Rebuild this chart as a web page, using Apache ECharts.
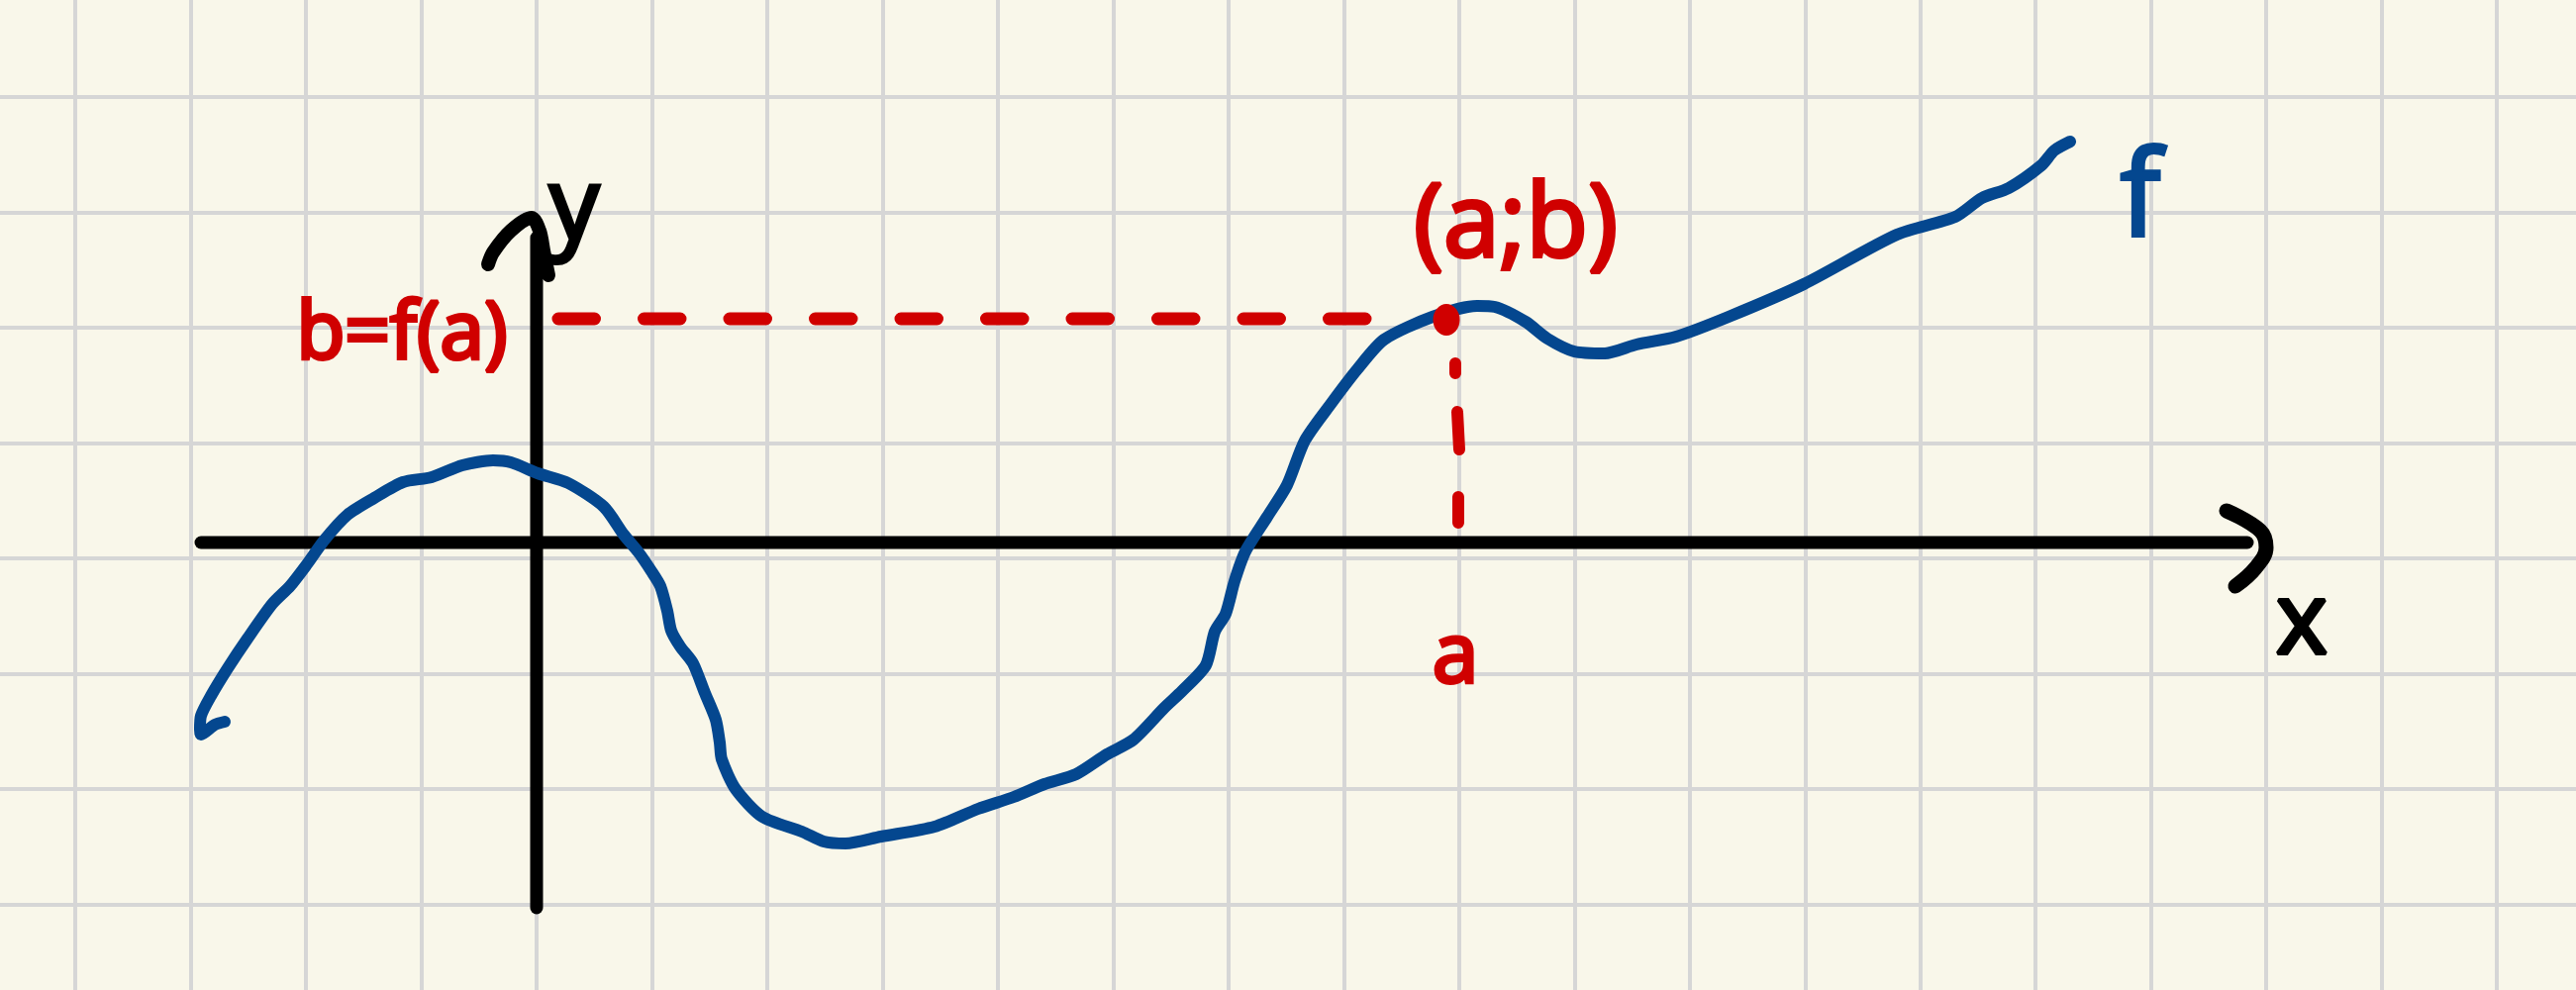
<!DOCTYPE html>
<html>
<head>
<meta charset="utf-8">
<style>html,body{margin:0;padding:0;background:#f9f7ea}#c{width:2602px;height:1000px}</style>
<script src="https://cdn.jsdelivr.net/npm/echarts@6/dist/echarts.min.js"></script>
</head>
<body>
<div id="c"></div>
<script>
// Function f (origin where the two hand-drawn axes meet)
const curveF = [[-315,-165],[-325,-168],[-339,-178],[-340,-173],[-339,-159],[-329,-139],[-312,-111],[-292,-81],[-267,-46],[-249,-28],[-232,-6],[-214,19],[-191,44],[-164,61],[-135,77],[-106,82],[-75,94],[-44,99],[-26,97],[1,86],[32,76],[68,52],[88,24],[103,6],[116,-13],[125,-28],[132,-53],[136,-73],[145,-89],[158,-106],[170,-136],[181,-163],[185,-186],[187,-203],[201,-233],[228,-261],[268,-276],[290,-286],[312,-288],[348,-281],[402,-271],[446,-253],[482,-241],[513,-228],[545,-218],[576,-198],[603,-183],[634,-151],[652,-134],[676,-108],[685,-74],[696,-56],[705,-23],[716,7],[738,42],[758,74],[776,119],[803,157],[829,191],[856,221],[905,244],[950,255],[968,254],[999,239],[1021,222],[1048,209],[1079,207],[1111,216],[1151,224],[1204,244],[1280,277],[1374,327],[1433,345],[1460,364],[1487,374],[1520,397],[1533,412],[1549,421]];
const axisX = [[-339,16],[1728,16]];
const axisY = [[0,324],[0,-353]];
const arrowX = [[1707,48],[1741,28],[1747,11],[1736,-10],[1716,-28]];
const arrowY = [[-49,297],[-44,309],[-26,331],[-5,344],[3,331],[7,311],[12,286]];
const guideB = [[22,242],[839,242]];
const guideA = [[928,197],[928,187],null,[930,148],[932,110],null,[931,62],[931,36]];
const pointAB = [[919,241]];
const labelsRed = [[-136,225,'b=f(a)'],[989,334,'(a;b)'],[928,-101,'a']];
const labelsBlue = [[1620,360,'f']];
const labelsBlack = [[1783,-68,'x'],[38,350,'y']];
const gridCell = 116.5;

const BLUE = '#04478f', RED = '#d00000', BLACK = '#000000';
const fontSizes = { 'b=f(a)': 80, '(a;b)': 102, a: 84, f: 120, x: 100, y: 100 };
function pen(name, data, color, width, z, extra) {
  return Object.assign({
    name, type: 'line', data, z, symbol: 'none', showSymbol: false, silent: true,
    connectNulls: false, animation: false,
    lineStyle: { color, width, cap: 'round', join: 'round' }
  }, extra || {});
}
function texts(name, data, color) {
  return {
    name, type: 'scatter', z: 9, silent: true, animation: false, symbolSize: 0,
    itemStyle: { opacity: 1 },
    data: data.map(d => ({ value: [d[0], d[1]], label: { formatter: d[2], fontSize: fontSizes[d[2]] } })),
    label: {
      show: true, position: 'inside', color, opacity: 1, fontWeight: 'normal',
      fontFamily: '"Open Sans", sans-serif', textBorderColor: color, textBorderWidth: 4,
      align: 'center', verticalAlign: 'middle'
    }
  };
}
const paper = { lineStyle: { color: '#d6d6d6', width: 4 } };
const chart = echarts.init(document.getElementById('c'), null, { renderer: 'canvas' });
chart.setOption({
  animation: false,
  backgroundColor: '#f9f7ea',
  grid: { left: -40.4, top: -18.5, width: 23 * 116.48, height: 9 * gridCell, containLabel: false, show: false, outerBoundsMode: 'none' },
  xAxis: { type: 'value', min: -5 * 116.48, max: 18 * 116.48, interval: 116.48,
    axisLine: { show: false }, axisTick: { show: false }, axisLabel: { show: false }, splitLine: paper },
  yAxis: { type: 'value', min: -4 * gridCell, max: 5 * gridCell, interval: gridCell,
    axisLine: { show: false }, axisTick: { show: false }, axisLabel: { show: false }, splitLine: paper },
  series: [
    pen('x axis', axisX, BLACK, 13, 3),
    pen('y axis', axisY, BLACK, 13, 3),
    pen('x arrow', arrowX, BLACK, 15, 4, { smooth: 0.4 }),
    pen('y arrow', arrowY, BLACK, 14, 4, { smooth: 0.3 }),
    pen('f', curveF, BLUE, 12, 5, { smooth: 0.25 }),
    pen('b guide', guideB, RED, 13, 6, { lineStyle: { color: RED, width: 13, cap: 'round', type: [36.5, 50] } }),
    pen('a guide', guideA, RED, 12, 6),
    { name: '(a;b)', type: 'scatter', data: pointAB, symbol: 'circle', symbolSize: [27, 32], z: 7,
      silent: true, animation: false, itemStyle: { color: RED, opacity: 1 } },
    texts('red text', labelsRed, RED),
    texts('blue text', labelsBlue, BLUE),
    texts('black text', labelsBlack, BLACK)
  ]
});
</script>
</body>
</html>
